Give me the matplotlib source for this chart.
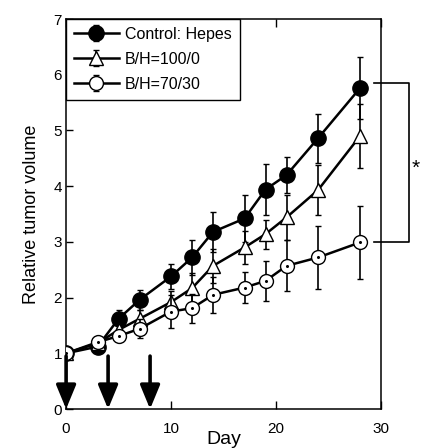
import matplotlib
matplotlib.use("Agg")
import matplotlib.pyplot as plt
import matplotlib as mpl


# ==========================
# style
# ==========================

mpl.rcParams["font.family"] = ["Liberation Sans", "DejaVu Sans"]
mpl.rcParams["font.size"] = 11


# ==========================
# data
# ==========================

days = [0, 3, 5, 7, 10, 12, 14, 17, 19, 21, 24, 28]

control = [1.0, 1.12, 1.62, 1.96, 2.38, 2.72, 3.18, 3.42, 3.94, 4.20, 4.86, 5.76]
control_err = [0.02, 0.05, 0.16, 0.18, 0.23, 0.32, 0.36, 0.42, 0.45, 0.32, 0.44, 0.55]

bh100 = [1.0, 1.18, 1.42, 1.62, 1.92, 2.17, 2.57, 2.90, 3.14, 3.44, 3.93, 4.90]
bh100_err = [0.02, 0.06, 0.10, 0.15, 0.20, 0.28, 0.30, 0.30, 0.26, 0.40, 0.45, 0.57]

bh70 = [1.0, 1.20, 1.31, 1.44, 1.75, 1.81, 2.05, 2.18, 2.30, 2.57, 2.72, 2.99]
bh70_err = [0.02, 0.05, 0.08, 0.17, 0.29, 0.26, 0.32, 0.28, 0.36, 0.46, 0.56, 0.66]

injection_days = [0, 4, 8]

labels = ["Control: Hepes", "B/H=100/0", "B/H=70/30"]


# ==========================
# figure
# ==========================

fig = plt.figure(figsize=(4.21, 4.48), dpi=100)
ax = fig.add_axes([0.157, 0.087, 0.748, 0.8705])

common = dict(
    color="black",
    linewidth=1.8,
    elinewidth=1.2,
    capsize=2.5,
    capthick=1.3,
    markeredgecolor="black",
    markeredgewidth=1.0,
)

ax.errorbar(
    days, control, yerr=control_err,
    marker="o", markersize=11, markerfacecolor="black",
    label=labels[0], zorder=3, **common
)

ax.errorbar(
    days, bh100, yerr=bh100_err,
    marker="^", markersize=10.5, markerfacecolor="white",
    label=labels[1], zorder=4, **common
)

ax.errorbar(
    days, bh70, yerr=bh70_err,
    marker="o", markersize=10, markerfacecolor="white",
    label=labels[2], zorder=5, **common
)

# small dot in the open circles
ax.plot(days, bh70, linestyle="none", marker="o", markersize=1.2,
        color="black", zorder=6)


# ==========================
# injection arrows
# ==========================

for d in injection_days:
    ax.annotate(
        "",
        xy=(d, 0),
        xytext=(d, 0.95),
        arrowprops=dict(
            arrowstyle="-|>,head_length=1.45,head_width=0.6",
            mutation_scale=10,
            lw=2.6,
            color="black",
            shrinkA=0,
            shrinkB=0,
        ),
        annotation_clip=False,
        zorder=7,
    )


# ==========================
# significance bracket
# ==========================

br_top = 5.85
br_bot = 3.0
ax.plot([29.3, 32.7, 32.7, 29.3], [br_top, br_top, br_bot, br_bot],
        color="black", linewidth=1.2, clip_on=False, zorder=2)
ax.text(33.3, 4.32, "*", fontsize=15, ha="center", va="center",
        clip_on=False)


# ==========================
# axes
# ==========================

ax.set_xlim(0, 30)
ax.set_ylim(0, 7)

ax.set_xticks([0, 10, 20, 30])
ax.set_yticks(range(0, 8))

ax.tick_params(axis="x", direction="in", length=5.5, width=1,
               top=True, pad=9, labelsize=11)
ax.tick_params(axis="y", direction="in", length=5, width=1,
               right=False, pad=3, labelsize=11)

for s in ax.spines.values():
    s.set_linewidth(1.1)

ax.set_ylabel("Relative tumor volume", fontsize=13, labelpad=10)
ax.set_xlabel("Day", fontsize=14, labelpad=-3)

leg = ax.legend(
    loc="upper left",
    bbox_to_anchor=(0, 1),
    borderaxespad=0,
    fancybox=False,
    framealpha=1,
    edgecolor="black",
    fontsize=11.5,
    handlelength=2.8,
    handletextpad=0.4,
    labelspacing=0.62,
    borderpad=0.5,
)
leg.get_frame().set_linewidth(1.0)
leg.set_zorder(10)

fig.savefig("out.png", dpi=100)
